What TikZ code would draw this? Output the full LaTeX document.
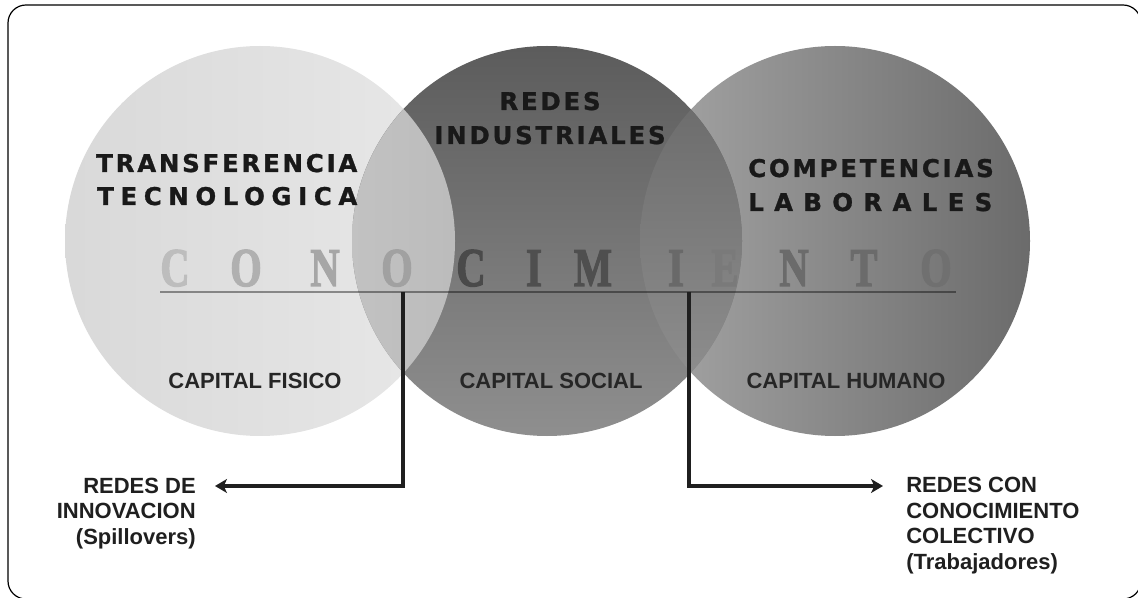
\documentclass[tikz,border=0pt]{standalone}
\usepackage{fontspec}
\setmainfont{Liberation Sans}
\newfontfamily\headfont{DejaVu Sans}[LetterSpace=11.5, FakeBold=1.2]
\newfontfamily\bigfont{Liberation Serif}[FakeBold=2.5]
\usetikzlibrary{arrows.meta,positioning}

\begin{document}
\begin{tikzpicture}[x=0.75pt,y=-0.75pt,
  blob/.style={circle, minimum size=292.5pt, inner sep=0pt},
  head/.style={font=\headfont\bfseries\fontsize{18.3}{25}\selectfont, text=black!90, inner sep=0pt},
  capital/.style={font=\bfseries\fontsize{16.5}{19}\selectfont, text=black!85, inner sep=0pt, anchor=base},
  outcome/.style={font=\bfseries\fontsize{16.5}{19.1}\selectfont, text=black!88, inner sep=0pt},
  letter/.style={font=\bigfont\bfseries\fontsize{41}{41}\selectfont, inner sep=0pt, anchor=base},
  link/.style={line width=2.3pt, draw=black!88, -{Stealth[length=9pt,width=10.5pt,inset=2.5pt]}}
]
\clip (0,0) rectangle (1138,598);
\draw[line width=0.9pt, rounded corners=13.5pt] (8,5) rectangle (1141,599);

% the three circles
\node[blob, left color=black!15, right color=black!9] (fis) at (260,241) {};
\node[blob, left color=black!35, right color=black!58] (hum) at (835,241) {};
\node[blob, top color=black!64, bottom color=black!44] (soc) at (547,241) {};
\begin{scope}
  \clip (fis.center) circle (195);
  \shade[left color=black!24, right color=black!33] (soc.center) circle (195);
\end{scope}
\begin{scope}
  \clip (hum.center) circle (195);
  \shade[top color=black!60, bottom color=black!42] (soc.center) circle (195);
\end{scope}

% headings
\node[head, anchor=base west] (transf) at (96,172) {TRANSFERENCIA};
\node[head, anchor=base west] (tecno) at (97,205) {\addfontfeatures{LetterSpace=27.2}TECNOLOGICA};
\node[head, anchor=base] (redes) at (550,110) {REDES};
\node[head, anchor=base] (indus) at (550,144) {INDUSTRIALES};
\node[head, anchor=base west] (compet) at (748,177) {COMPETENCIAS};
\node[head, anchor=base west] (labor) at (748,211) {\addfontfeatures{LetterSpace=42.4}LABORALES};

% CONOCIMIENTO
\foreach \ch/\cx/\tone in {C/175/26, O/246/31, N/325/35, O/397/37, C/471/71, I/534/69,
    M/593/69, I/676/59, E/725/52, N/794/58, T/864/58, O/936/56}
  \node[letter, text=black!\tone] (l\cx) at (\cx,286) {\scalebox{0.74}[1]{\ch}};
\coordinate (ul) at (160,292);
\coordinate (ur) at (956,292);
\draw[line width=1.4pt, draw=black, draw opacity=0.4] (ul) -- (ur);

\node[capital] (kfis) at (255,388) {CAPITAL FISICO};
\node[capital] (ksoc) at (551,388) {CAPITAL SOCIAL};
\node[capital] (khum) at (846,388) {CAPITAL HUMANO};

% connectors
\coordinate (j1) at (403,292);
\coordinate (j2) at (689,292);
\coordinate (tipl) at (215,486);
\coordinate (tipr) at (883,486);
\draw[link] (j1) |- (tipl);
\draw[link] (j2) |- (tipr);

\node[outcome, align=right, anchor=base east] (innov) at (196,544) {REDES DE\\INNOVACION\\(Spillovers)};
\node[outcome, align=left, anchor=base west] (colect) at (906,569) {REDES CON\\CONOCIMIENTO\\COLECTIVO\\(Trabajadores)};
\end{tikzpicture}
\end{document}
